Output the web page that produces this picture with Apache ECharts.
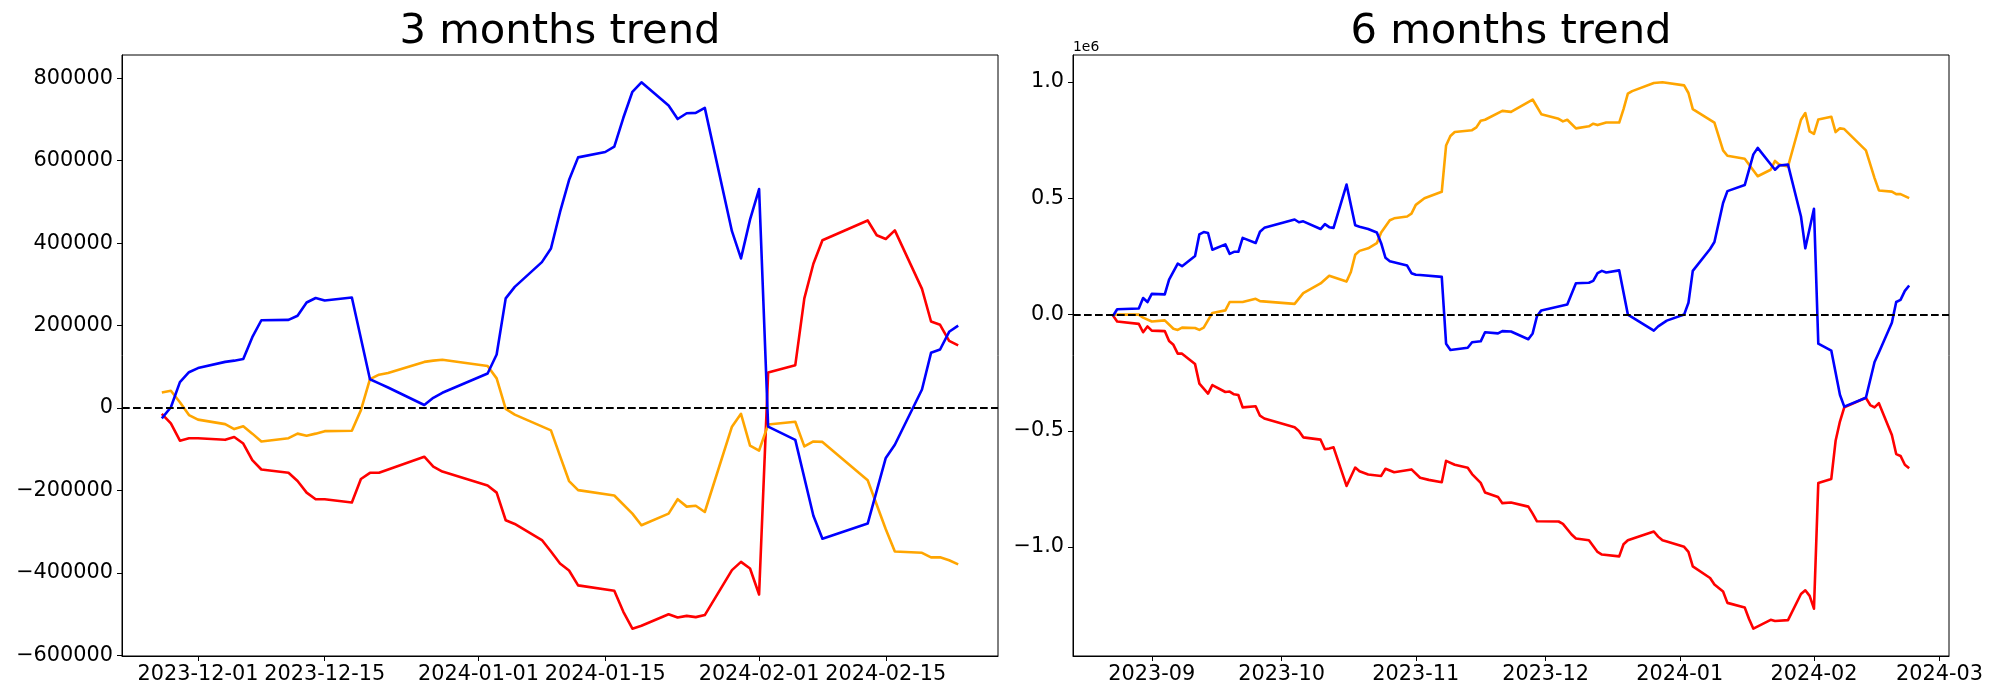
<!DOCTYPE html>
<html><head><meta charset="utf-8">
<script src="https://cdn.jsdelivr.net/npm/echarts@6/dist/echarts.min.js"></script>
<style>html,body{margin:0;padding:0;background:#fff}#c{width:2000px;height:700px}</style>
</head><body><div id="c"></div>
<script>
// ---------- 3 months trend ----------
const blue3m = [
['2023-11-27',-25000],['2023-11-28',2000],['2023-11-29',63000],['2023-11-30',87000],['2023-12-01',97000],
['2023-12-04',112000],['2023-12-05',115000],['2023-12-06',119000],['2023-12-07',172000],['2023-12-08',213000],
['2023-12-11',214000],['2023-12-12',224000],['2023-12-13',256000],['2023-12-14',267000],['2023-12-15',261000],
['2023-12-18',268000],['2023-12-20',70000],['2023-12-21',60000],['2023-12-22',50000],['2023-12-26',7500],
['2023-12-27',25000],['2023-12-28',37000],['2024-01-02',84000],['2024-01-03',130000],['2024-01-04',266000],
['2024-01-05',294000],['2024-01-08',354000],['2024-01-09',387000],['2024-01-10',475000],['2024-01-11',553000],
['2024-01-12',608000],['2024-01-15',621000],['2024-01-16',634000],['2024-01-17',704000],['2024-01-18',767000],
['2024-01-19',790000],['2024-01-22',734000],['2024-01-23',701000],['2024-01-24',715000],['2024-01-25',716000],
['2024-01-26',728000],['2024-01-29',429000],['2024-01-30',363000],['2024-01-31',457000],['2024-02-01',531000],
['2024-02-02',-45000],['2024-02-05',-77000],['2024-02-07',-261000],['2024-02-08',-317000],['2024-02-13',-280000],
['2024-02-15',-121000],['2024-02-16',-89000],['2024-02-19',45000],['2024-02-20',134000],['2024-02-21',142000],
['2024-02-22',185000],['2024-02-23',200000]
];
const red3m = [
['2023-11-27',-14000],['2023-11-28',-37000],['2023-11-29',-79000],['2023-11-30',-73000],['2023-12-01',-73000],
['2023-12-04',-77000],['2023-12-05',-70000],['2023-12-06',-86000],['2023-12-07',-126000],['2023-12-08',-149000],
['2023-12-11',-157000],['2023-12-12',-177000],['2023-12-13',-205000],['2023-12-14',-221000],['2023-12-15',-221000],
['2023-12-18',-229000],['2023-12-19',-172000],['2023-12-20',-157000],['2023-12-21',-157000],['2023-12-26',-118000],
['2023-12-27',-142000],['2023-12-28',-154000],['2024-01-02',-188000],['2024-01-03',-205000],['2024-01-04',-272000],
['2024-01-05',-281000],['2024-01-08',-320000],['2024-01-09',-348000],['2024-01-10',-377000],['2024-01-11',-394000],
['2024-01-12',-430000],['2024-01-16',-443000],['2024-01-17',-494000],['2024-01-18',-535000],['2024-01-19',-528000],
['2024-01-22',-500000],['2024-01-23',-508000],['2024-01-24',-504000],['2024-01-25',-507000],['2024-01-26',-502000],
['2024-01-29',-393000],['2024-01-30',-373000],['2024-01-31',-389000],['2024-02-01',-452000],['2024-02-02',86000],
['2024-02-05',104000],['2024-02-06',266000],['2024-02-07',350000],['2024-02-08',407000],['2024-02-13',455000],
['2024-02-14',419000],['2024-02-15',410000],['2024-02-16',431000],['2024-02-19',289000],['2024-02-20',210000],
['2024-02-21',202000],['2024-02-22',163000],['2024-02-23',152000]
];
const orange3m = [
['2023-11-27',38000],['2023-11-28',42000],['2023-11-29',14000],['2023-11-30',-17000],['2023-12-01',-28000],
['2023-12-04',-39000],['2023-12-05',-51000],['2023-12-06',-44000],['2023-12-07',-62000],['2023-12-08',-81000],
['2023-12-11',-73000],['2023-12-12',-62000],['2023-12-13',-67000],['2023-12-14',-62000],['2023-12-15',-56000],
['2023-12-18',-55000],['2023-12-19',-5000],['2023-12-20',70000],['2023-12-21',81000],['2023-12-22',85000],
['2023-12-26',112000],['2023-12-27',115000],['2023-12-28',117000],['2024-01-02',102000],['2024-01-03',72000],
['2024-01-04',-2000],['2024-01-05',-16000],['2024-01-09',-54000],['2024-01-10',-116000],['2024-01-11',-177000],
['2024-01-12',-199000],['2024-01-16',-212000],['2024-01-18',-256000],['2024-01-19',-284000],['2024-01-22',-256000],
['2024-01-23',-221000],['2024-01-24',-239000],['2024-01-25',-237000],['2024-01-26',-252000],['2024-01-29',-45000],
['2024-01-30',-14000],['2024-01-31',-91000],['2024-02-01',-103000],['2024-02-02',-40000],['2024-02-05',-33000],
['2024-02-06',-93000],['2024-02-07',-81000],['2024-02-08',-82000],['2024-02-13',-175000],['2024-02-15',-294000],
['2024-02-16',-348000],['2024-02-19',-351000],['2024-02-20',-362000],['2024-02-21',-362000],['2024-02-22',-369000],
['2024-02-23',-379000]
];
// ---------- 6 months trend ----------
const blue6m = [
['2023-08-23',-7000],['2023-08-24',23000],['2023-08-29',26000],['2023-08-30',71000],['2023-08-31',54000],
['2023-09-01',89000],['2023-09-04',87000],['2023-09-05',150000],['2023-09-07',219000],['2023-09-08',208000],
['2023-09-11',252000],['2023-09-12',345000],['2023-09-13',355000],['2023-09-14',351000],['2023-09-15',279000],
['2023-09-18',302000],['2023-09-19',261000],['2023-09-20',270000],['2023-09-21',270000],['2023-09-22',330000],
['2023-09-25',308000],['2023-09-26',356000],['2023-09-27',373000],['2023-10-04',409000],['2023-10-05',397000],
['2023-10-06',401000],['2023-10-10',368000],['2023-10-11',389000],['2023-10-12',376000],['2023-10-13',373000],
['2023-10-16',559000],['2023-10-18',384000],['2023-10-19',378000],['2023-10-21',368000],['2023-10-23',353000],
['2023-10-24',307000],['2023-10-25',244000],['2023-10-26',229000],['2023-10-30',211000],['2023-10-31',178000],
['2023-11-01',171000],['2023-11-02',170000],['2023-11-07',162000],['2023-11-08',-125000],['2023-11-09',-152000],
['2023-11-13',-143000],['2023-11-14',-119000],['2023-11-16',-115000],['2023-11-17',-76000],['2023-11-20',-81000],
['2023-11-21',-71000],['2023-11-23',-73000],['2023-11-27',-106000],['2023-11-28',-81000],['2023-11-29',-7000],
['2023-11-30',18000],['2023-12-06',43000],['2023-12-08',135000],['2023-12-11',137000],['2023-12-12',145000],
['2023-12-13',178000],['2023-12-14',188000],['2023-12-15',181000],['2023-12-18',190000],['2023-12-20',0],
['2023-12-26',-69000],['2023-12-27',-51000],['2023-12-29',-26000],['2024-01-02',0],['2024-01-03',51000],
['2024-01-04',188000],['2024-01-08',282000],['2024-01-09',312000],['2024-01-11',480000],['2024-01-12',531000],
['2024-01-16',557000],['2024-01-18',689000],['2024-01-19',717000],['2024-01-23',623000],['2024-01-24',641000],
['2024-01-26',645000],['2024-01-29',422000],['2024-01-30',285000],['2024-02-01',455000],['2024-02-02',-125000],
['2024-02-05',-155000],['2024-02-07',-345000],['2024-02-08',-396000],['2024-02-13',-358000],['2024-02-15',-204000],
['2024-02-16',-163000],['2024-02-19',-35000],['2024-02-20',54000],['2024-02-21',63000],['2024-02-22',102000],
['2024-02-23',125000]
];
const red6m = [
['2023-08-23',-3000],['2023-08-24',-30000],['2023-08-29',-40000],['2023-08-30',-76000],['2023-08-31',-51000],
['2023-09-01',-69000],['2023-09-04',-71000],['2023-09-05',-114000],['2023-09-06',-130000],['2023-09-07',-168000],
['2023-09-08',-168000],['2023-09-11',-213000],['2023-09-12',-297000],['2023-09-14',-340000],['2023-09-15',-303000],
['2023-09-18',-333000],['2023-09-19',-331000],['2023-09-20',-343000],['2023-09-21',-346000],['2023-09-22',-399000],
['2023-09-25',-394000],['2023-09-26',-435000],['2023-09-27',-447000],['2023-10-04',-485000],['2023-10-05',-501000],
['2023-10-06',-528000],['2023-10-10',-538000],['2023-10-11',-579000],['2023-10-12',-576000],['2023-10-13',-571000],
['2023-10-16',-737000],['2023-10-18',-658000],['2023-10-19',-674000],['2023-10-21',-688000],['2023-10-24',-694000],
['2023-10-25',-663000],['2023-10-27',-678000],['2023-10-31',-666000],['2023-11-02',-702000],['2023-11-04',-711000],
['2023-11-07',-721000],['2023-11-08',-629000],['2023-11-10',-646000],['2023-11-13',-659000],['2023-11-14',-686000],
['2023-11-16',-724000],['2023-11-17',-765000],['2023-11-20',-785000],['2023-11-21',-811000],['2023-11-23',-808000],
['2023-11-27',-826000],['2023-11-28',-856000],['2023-11-29',-889000],['2023-12-04',-890000],['2023-12-05',-900000],
['2023-12-07',-946000],['2023-12-08',-963000],['2023-12-11',-971000],['2023-12-13',-1021000],['2023-12-14',-1032000],
['2023-12-18',-1040000],['2023-12-19',-988000],['2023-12-20',-971000],['2023-12-26',-933000],['2023-12-27',-955000],
['2023-12-28',-971000],['2023-12-29',-976000],['2024-01-02',-999000],['2024-01-03',-1021000],['2024-01-04',-1083000],
['2024-01-08',-1133000],['2024-01-09',-1161000],['2024-01-11',-1191000],['2024-01-12',-1240000],['2024-01-16',-1260000],
['2024-01-17',-1309000],['2024-01-18',-1351000],['2024-01-22',-1313000],['2024-01-23',-1318000],['2024-01-26',-1314000],
['2024-01-29',-1202000],['2024-01-30',-1186000],['2024-01-31',-1210000],['2024-02-01',-1265000],['2024-02-02',-724000],
['2024-02-05',-707000],['2024-02-06',-543000],['2024-02-07',-460000],['2024-02-08',-399000],['2024-02-13',-358000],
['2024-02-14',-389000],['2024-02-15',-399000],['2024-02-16',-381000],['2024-02-19',-518000],['2024-02-20',-600000],
['2024-02-21',-608000],['2024-02-22',-646000],['2024-02-23',-661000]
];
const orange6m = [
['2023-08-23',-3000],['2023-08-24',0],['2023-08-29',0],['2023-08-30',-13000],['2023-09-01',-30000],
['2023-09-04',-25000],['2023-09-06',-61000],['2023-09-07',-66000],['2023-09-08',-56000],['2023-09-11',-58000],
['2023-09-12',-66000],['2023-09-13',-56000],['2023-09-15',7000],['2023-09-18',18000],['2023-09-19',54000],
['2023-09-22',54000],['2023-09-25',68000],['2023-09-26',58000],['2023-10-04',46000],['2023-10-06',92000],
['2023-10-10',134000],['2023-10-12',167000],['2023-10-16',142000],['2023-10-17',183000],['2023-10-18',257000],
['2023-10-19',274000],['2023-10-21',285000],['2023-10-23',307000],['2023-10-24',353000],['2023-10-26',406000],
['2023-10-27',414000],['2023-10-30',422000],['2023-10-31',434000],['2023-11-01',472000],['2023-11-03',500000],
['2023-11-07',528000],['2023-11-08',727000],['2023-11-09',768000],['2023-11-10',785000],['2023-11-14',793000],
['2023-11-15',805000],['2023-11-16',834000],['2023-11-17',838000],['2023-11-21',876000],['2023-11-23',872000],
['2023-11-28',925000],['2023-11-30',862000],['2023-12-04',842000],['2023-12-05',831000],['2023-12-06',838000],
['2023-12-08',801000],['2023-12-11',810000],['2023-12-12',821000],['2023-12-13',815000],['2023-12-15',826000],
['2023-12-18',826000],['2023-12-19',884000],['2023-12-20',950000],['2023-12-21',961000],['2023-12-26',996000],
['2023-12-28',999000],['2024-01-02',986000],['2024-01-03',953000],['2024-01-04',884000],['2024-01-09',826000],
['2024-01-11',706000],['2024-01-12',683000],['2024-01-16',670000],['2024-01-19',595000],['2024-01-22',623000],
['2024-01-23',661000],['2024-01-24',645000],['2024-01-26',637000],['2024-01-29',838000],['2024-01-30',867000],
['2024-01-31',788000],['2024-02-01',777000],['2024-02-02',839000],['2024-02-05',851000],['2024-02-06',785000],
['2024-02-07',801000],['2024-02-08',798000],['2024-02-13',706000],['2024-02-15',587000],['2024-02-16',534000],
['2024-02-19',529000],['2024-02-20',518000],['2024-02-21',518000],['2024-02-23',501000]
];
// tick labels
const xTicks3m = ['2023-12-01','2023-12-15','2024-01-01','2024-01-15','2024-02-01','2024-02-15'];
const xTicks6m = ['2023-09-01','2023-10-01','2023-11-01','2023-12-01','2024-01-01','2024-02-01','2024-03-01'];
const yTicks3m = [-600000,-400000,-200000,0,200000,400000,600000,800000];
const yTicks6m = [-1000000,-500000,0,500000,1000000];
const titles = ['3 months trend','6 months trend'];
const offsetText6m = '1e6';

// ---------- helpers ----------
function ts(s){const p=s.split('-').map(Number);return Date.UTC(p[0],p[1]-1,p[2]);}
function pad(n){return (n<10?'0':'')+n;}
function fmtDay(v){const d=new Date(v);return d.getUTCFullYear()+'-'+pad(d.getUTCMonth()+1)+'-'+pad(d.getUTCDate());}
function fmtMonth(v){const d=new Date(v);return d.getUTCFullYear()+'-'+pad(d.getUTCMonth()+1);}
function minus(s){return s.replace('-','\u2212');}
function extent(seriesList, idx){
  let lo=Infinity, hi=-Infinity;
  seriesList.forEach(s=>s.forEach(p=>{const v= idx===0?ts(p[0]):p[1]; if(v<lo)lo=v; if(v>hi)hi=v;}));
  const m=(hi-lo)*0.05; return [lo-m, hi+m];
}
const FONT='DejaVu Sans';
const TICKFS=20.8;
const groups=[[red3m,orange3m,blue3m],[red6m,orange6m,blue6m]];
const gridL=[122,1073], GW=876, GT=55, GH=601;

const chart=echarts.init(document.getElementById('c'),null,{renderer:'canvas'});
const xAxes=[], yAxes=[], grids=[], series=[];
groups.forEach((g,i)=>{
  grids.push({left:gridL[i],top:GT,width:GW,height:GH,show:true,borderColor:'#000',borderWidth:1,backgroundColor:'transparent',containLabel:false});
  const xe=extent(g,0), ye=extent(g,1);
  const xt=(i===0?xTicks3m:xTicks6m).map(ts);
  const yt=(i===0?yTicks3m:yTicks6m);
  xAxes.push({type:'value',gridIndex:i,min:xe[0],max:xe[1],
    axisLine:{show:true,onZero:false,lineStyle:{color:'#000',width:1}},
    axisTick:{show:true,length:5,lineStyle:{color:'#000',width:1},customValues:xt},
    axisLabel:{customValues:xt,color:'#000',fontFamily:FONT,fontSize:TICKFS,margin:8,
      formatter:(v)=> i===0?fmtDay(v):fmtMonth(v)},
    splitLine:{show:false}});
  yAxes.push({type:'value',gridIndex:i,min:ye[0],max:ye[1],
    axisLine:{show:true,onZero:false,lineStyle:{color:'#000',width:1}},
    axisTick:{show:true,length:5,lineStyle:{color:'#000',width:1},customValues:yt},
    axisLabel:{customValues:yt,color:'#000',fontFamily:FONT,fontSize:TICKFS,margin:9,
      formatter:(v)=> i===0?minus(String(Math.round(v))):minus((v/1e6).toFixed(1))},
    splitLine:{show:false}});
  const colors=['#ff0000','#ffa500','#0000ff'];
  g.forEach((s,k)=>{
    const ser={type:'line',xAxisIndex:i,yAxisIndex:i,data:s.map(p=>[ts(p[0]),p[1]]),
      symbol:'none',showSymbol:false,silent:true,
      lineStyle:{color:colors[k],width:2.6,join:'round'},itemStyle:{color:colors[k]},z:2+k};
    if(k===2){
      ser.markLine={silent:true,symbol:['none','none'],label:{show:false},animation:false,
        lineStyle:{color:'#000',width:2,type:[7.7,3.3]},data:[{yAxis:0}]};
    }
    series.push(ser);
  });
});

const graphics=[
  {type:'text',x:gridL[0]+GW/2,y:32,style:{text:titles[0],font:'41.7px "DejaVu Sans"',fill:'#000',align:'center',verticalAlign:'middle'}},
  {type:'text',x:gridL[1]+GW/2,y:32,style:{text:titles[1],font:'41.7px "DejaVu Sans"',fill:'#000',align:'center',verticalAlign:'middle'}},
  {type:'text',x:gridL[1],y:47,style:{text:offsetText6m,font:'13.9px "DejaVu Sans"',fill:'#000',align:'left',verticalAlign:'middle'}}
];

chart.setOption({animation:false,backgroundColor:'#fff',grid:grids,xAxis:xAxes,yAxis:yAxes,series:series,graphic:graphics});
</script></body></html>
